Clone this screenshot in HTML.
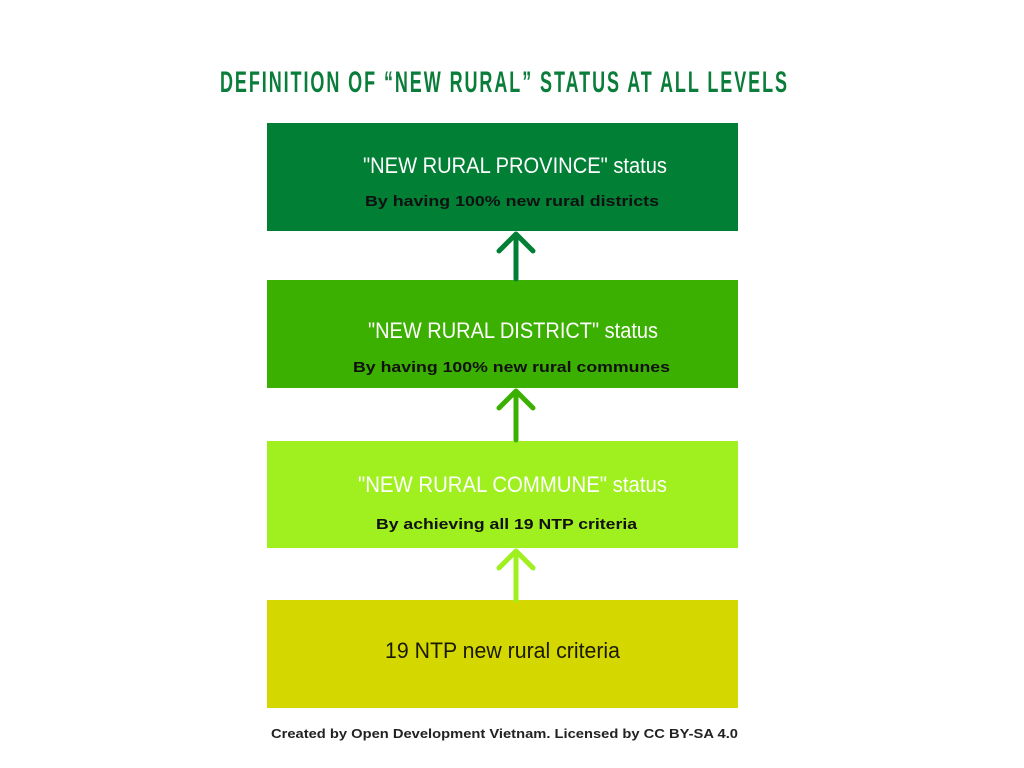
<!DOCTYPE html>
<html><head><meta charset="utf-8"><style>
html,body{margin:0;padding:0;background:#fff;width:1024px;height:768px;overflow:hidden}
svg{display:block}
</style></head><body>
<svg width="1024" height="768" viewBox="0 0 1024 768" xmlns="http://www.w3.org/2000/svg">
<rect width="1024" height="768" fill="#fff"/>
<g transform="translate(220,92) scale(0.6,1)">
<text x="0" y="0" textLength="945" lengthAdjust="spacing" font-family="Liberation Sans, sans-serif" font-weight="bold" font-size="30" fill="#0b7d3a">DEFINITION OF “NEW RURAL” STATUS AT ALL LEVELS</text>
</g>

<rect x="267" y="123" width="471" height="108" fill="#007f35"/>
<rect x="267" y="280" width="471" height="108" fill="#3bb000"/>
<rect x="267" y="441" width="471" height="107" fill="#9ff01e"/>
<rect x="267" y="600" width="471" height="108" fill="#d4d800"/>

<g stroke-width="5" stroke-linecap="round" stroke-linejoin="round" fill="none">
<path d="M516 279 V236 M499 251 L516 234 L533 251" stroke="#007f35"/>
<path d="M516 440 V393 M499 408 L516 391 L533 408" stroke="#3bb000"/>
<path d="M516 600 V553 M499 568 L516 551 L533 568" stroke="#9ff01e"/>
</g>

<g font-family="Liberation Sans, sans-serif" font-size="22" fill="#fff">
<text x="363" y="173" textLength="304" lengthAdjust="spacingAndGlyphs">"NEW RURAL PROVINCE" status</text>
<text x="368" y="338" textLength="290" lengthAdjust="spacingAndGlyphs">"NEW RURAL DISTRICT" status</text>
<text x="358" y="492" textLength="309" lengthAdjust="spacingAndGlyphs">"NEW RURAL COMMUNE" status</text>
<text x="385" y="658" textLength="235" lengthAdjust="spacingAndGlyphs" fill="#1a1a00">19 NTP new rural criteria</text>
</g>
<g font-family="Liberation Sans, sans-serif" font-size="15" font-weight="bold" fill="#111">
<text x="365" y="206" textLength="294" lengthAdjust="spacingAndGlyphs">By having 100% new rural districts</text>
<text x="353" y="372" textLength="317" lengthAdjust="spacingAndGlyphs">By having 100% new rural communes</text>
<text x="376" y="529" textLength="261" lengthAdjust="spacingAndGlyphs">By achieving all 19 NTP criteria</text>
</g>
<text x="271" y="738" textLength="467" lengthAdjust="spacingAndGlyphs" font-family="Liberation Sans, sans-serif" font-size="13" font-weight="bold" fill="#222">Created by Open Development Vietnam. Licensed by CC BY-SA 4.0</text>
</svg>
</body></html>
